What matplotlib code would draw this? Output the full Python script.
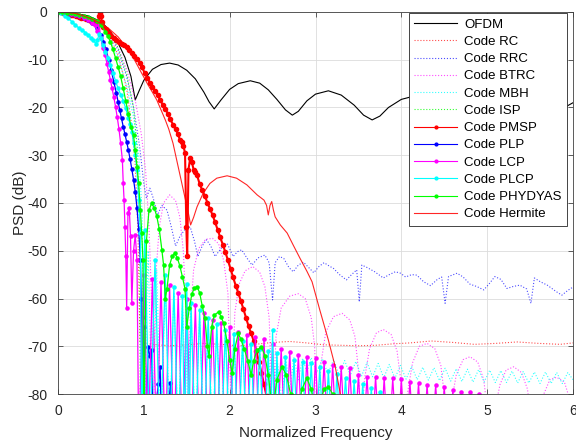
import numpy as np
import matplotlib
matplotlib.use("Agg")
import matplotlib.pyplot as plt

# PSD curves, (normalized frequency, dB)
OFDM = [(0, 0), (0.2, -0.3), (0.35, -0.8), (0.5, -2), (0.6, -3.8), (0.7, -6.5), (0.78, -9.5),
        (0.85, -13.5), (0.9, -18.4), (0.95, -16.3), (1.0, -14.3), (1.1, -12), (1.2, -11), (1.3, -10.7),
        (1.4, -11.1), (1.5, -12.2), (1.6, -14), (1.7, -16.8), (1.76, -18.8), (1.82, -20.3), (1.9, -18.4),
        (2.0, -16.2), (2.1, -15), (2.24, -14.4), (2.35, -14.9), (2.45, -16.3), (2.55, -18.3), (2.65, -20.5),
        (2.73, -21.6), (2.8, -20.8), (2.9, -18.6), (3.0, -17.2), (3.15, -16.5), (3.3, -17.4), (3.45, -19.5),
        (3.56, -21.6), (3.66, -22.6), (3.75, -21.8), (3.85, -20), (4.0, -18.3), (4.15, -17.6), (4.3, -18.2),
        (4.45, -20.5), (4.6, -23), (4.75, -21), (4.9, -19), (5.1, -18.2), (5.3, -18.8), (5.5, -21.5),
        (5.7, -23.5), (5.9, -20), (6.0, -19)]

RC = [(0, 0), (0.2, -0.3), (0.35, -1), (0.5, -2.5), (0.6, -5), (0.7, -9), (0.8, -16), (0.86, -24),
      (0.9, -32), (0.93, -45), (0.955, -69.2), (1.1, -69.6), (1.3, -69.9), (1.5, -69.7), (1.7, -69.4),
      (1.9, -69.6), (2.1, -69.9), (2.3, -69.6), (2.5, -69.2), (2.7, -69.0), (2.9, -69.3), (3.1, -69.7),
      (3.3, -69.8), (3.5, -69.9), (3.7, -69.8), (3.9, -69.5), (4.1, -69.3), (4.35, -68.9), (4.6, -69.2),
      (4.85, -69.6), (5.1, -69.4), (5.35, -69.1), (5.6, -69.4), (5.85, -69.6), (6.0, -69.3)]

RRC = [(0, 0), (0.2, -0.3), (0.35, -1), (0.5, -2.5), (0.6, -4.5), (0.7, -8), (0.8, -13.5), (0.88, -20),
       (0.95, -28), (1.0, -36), (1.03, -39), (1.07, -36.9), (1.11, -39), (1.16, -42.5), (1.21, -40.5),
       (1.27, -41.5), (1.32, -45), (1.37, -49), (1.42, -47), (1.48, -45.5), (1.54, -45), (1.59, -48),
       (1.63, -51.2), (1.68, -49), (1.73, -47.7), (1.78, -49), (1.83, -51.2), (1.9, -49.5), (1.97, -48.4),
       (2.04, -51.2), (2.09, -50.2), (2.14, -49.8), (2.2, -51.5), (2.26, -53), (2.33, -51.5), (2.41, -50.9),
       (2.46, -52.5), (2.5, -60.3), (2.53, -52.5), (2.58, -51.2), (2.63, -51.6), (2.69, -53.5), (2.74, -54.4),
       (2.8, -53), (2.86, -52.4), (2.92, -53.5), (2.98, -54.6), (3.04, -53.3), (3.1, -52.5), (3.16, -53.2),
       (3.21, -53.7), (3.28, -55), (3.36, -56.1), (3.42, -55), (3.48, -54), (3.51, -60.7), (3.54, -53),
       (3.6, -53.5), (3.69, -54.4), (3.79, -55.7), (3.86, -55), (3.93, -54.4), (3.99, -54.7), (4.05, -55.5),
       (4.12, -55), (4.18, -55.1), (4.26, -56.5), (4.34, -57.3), (4.42, -56), (4.47, -55.5), (4.51, -61),
       (4.55, -55.4), (4.65, -54.7), (4.72, -55.5), (4.8, -57), (4.88, -57.5), (4.96, -58.2), (5.02, -57),
       (5.09, -55.4), (5.16, -56), (5.23, -57.9), (5.3, -57.5), (5.38, -57.2), (5.46, -58), (5.51, -61),
       (5.55, -55.7), (5.62, -56.5), (5.7, -57.2), (5.8, -58.5), (5.87, -59.3), (5.94, -58.3), (6.0, -57.6)]

BTRC = [(0, 0), (0.2, -0.3), (0.35, -1), (0.5, -2.3), (0.6, -4.2), (0.7, -7.5), (0.8, -12), (0.9, -18.5),
        (0.97, -25.5), (1.02, -33), (1.06, -45), (1.09, -60), (1.11, -85), (1.14, -55), (1.18, -45),
        (1.23, -40), (1.3, -38.3), (1.37, -39.5), (1.42, -43), (1.46, -50), (1.49, -62), (1.51, -85),
        (1.54, -64), (1.58, -54), (1.64, -49.5), (1.72, -47.6), (1.8, -47.4), (1.87, -48.5), (1.93, -52),
        (1.98, -59), (2.02, -85), (2.06, -63), (2.11, -57), (2.18, -54.2), (2.27, -53.3), (2.35, -54.5),
        (2.41, -57.5), (2.46, -64), (2.5, -85), (2.54, -68), (2.6, -62), (2.7, -59.5), (2.8, -59), (2.88, -60),
        (2.95, -64), (2.99, -70), (3.02, -88), (3.06, -74), (3.12, -67), (3.21, -63.8), (3.31, -63.1),
        (3.4, -64.5), (3.46, -68), (3.5, -75), (3.53, -88), (3.57, -77), (3.63, -70.5), (3.71, -67.2),
        (3.79, -66.5), (3.88, -67.5), (3.95, -71), (4.0, -78), (4.03, -90), (4.07, -80), (4.13, -73.5),
        (4.21, -70), (4.3, -69.4), (4.39, -70.5), (4.46, -74), (4.5, -80), (4.53, -92), (4.58, -82),
        (4.64, -76), (4.72, -72.8), (4.8, -72.2), (4.89, -73.3), (4.96, -77), (5.0, -83), (5.03, -93),
        (5.08, -84), (5.15, -78), (5.22, -75), (5.31, -74.3), (5.4, -75.5), (5.47, -79), (5.51, -85),
        (5.54, -95), (5.6, -86), (5.66, -80), (5.73, -77), (5.81, -76.5), (5.9, -77.5), (5.96, -81), (6.0, -85)]

MBH = [(0, 0), (0.2, -0.4), (0.35, -1.2), (0.5, -3.0), (0.6, -5.5), (0.7, -9.5), (0.8, -15.5), (0.88, -22.0),
       (0.94, -30.0), (0.98, -42.0), (1.0, -88), (1.05, -50), (1.1, -88), (1.15, -54), (1.2, -88), (1.25, -57),
       (1.3, -88), (1.35, -59), (1.4, -88), (1.45, -61), (1.5, -88), (1.55, -62.5), (1.6, -88), (1.65, -64),
       (1.7, -88), (1.75, -65.5), (1.8, -88), (1.85, -66.5), (1.9, -88), (1.95, -67.5), (2.0, -88),
       (2.05, -68.5), (2.1, -88), (2.15, -69.5), (2.2, -88), (2.25, -70), (2.3, -88), (2.35, -70.5),
       (2.4, -87), (2.45, -71), (2.5, -85), (2.55, -71.5), (2.6, -82), (2.65, -72), (2.7, -79), (2.75, -72.3),
       (2.8, -77), (2.85, -72.5), (2.9, -75.5), (2.95, -72.4), (3.015, -75.6), (3.08, -72.6), (3.145, -75.8),
       (3.21, -72.8), (3.275, -76.0), (3.34, -73.0), (3.405, -76.1), (3.47, -73.2), (3.535, -76.3),
       (3.6, -73.4), (3.665, -76.4), (3.73, -73.6), (3.795, -76.6), (3.86, -73.8), (3.925, -76.7),
       (3.99, -74.0), (4.055, -76.9), (4.12, -74.2), (4.185, -77.0), (4.25, -74.4), (4.315, -77.1),
       (4.38, -74.5), (4.445, -77.2), (4.51, -74.6), (4.575, -77.3), (4.64, -74.7), (4.705, -77.4),
       (4.77, -74.8), (4.835, -77.5), (4.9, -74.9), (4.965, -77.5), (5.03, -75.0), (5.095, -77.6),
       (5.16, -75.1), (5.225, -77.6), (5.29, -75.2), (5.355, -77.7), (5.42, -75.3), (5.485, -77.7),
       (5.55, -75.4), (5.615, -77.8), (5.68, -75.4), (5.745, -77.8), (5.81, -75.5), (5.875, -77.8),
       (5.94, -75.5), (6.0, -77.0)]

ISP = [(0, 0), (0.2, -0.3), (0.35, -1), (0.5, -2.2), (0.6, -4), (0.7, -7.5), (0.8, -13), (0.88, -20),
       (0.92, -28), (0.95, -45), (0.96, -90), (6.0, -90)]

PMSP = [(0, 0), (0.03, -0.1), (0.06, -0.2), (0.09, -0.3), (0.12, -0.4), (0.15, -0.6), (0.18, -0.7),
        (0.21, -0.9), (0.24, -1.0), (0.27, -1.2), (0.3, -1.3), (0.33, -1.5), (0.36, -1.6), (0.39, -1.8),
        (0.42, -2.0), (0.45, -2.3), (0.47, -1.8), (0.48, -0.8), (0.49, -0.3), (0.5, -0.8), (0.51, -2.0),
        (0.53, -3.2), (0.56, -3.6), (0.59, -4.4), (0.62, -5.0), (0.65, -5.5), (0.68, -5.9), (0.71, -6.2),
        (0.74, -6.6), (0.77, -6.9), (0.8, -7.3), (0.83, -7.9), (0.86, -8.6), (0.89, -9.2), (0.92, -9.8),
        (0.95, -10.6), (0.98, -11.6), (1.01, -12.8), (1.04, -13.8), (1.07, -14.8), (1.1, -15.8), (1.13, -16.6),
        (1.16, -17.4), (1.19, -18.4), (1.22, -19.4), (1.25, -20.3), (1.28, -21.3), (1.31, -22.5),
        (1.34, -23.6), (1.37, -24.6), (1.4, -25.6), (1.42, -26.8), (1.44, -27.2), (1.46, -28.0),
        (1.48, -29.5), (1.495, -45), (1.505, -51), (1.52, -33), (1.54, -30.6), (1.56, -31.5), (1.58, -33),
        (1.6, -33.5), (1.62, -34.2), (1.65, -36.0), (1.68, -37.3), (1.71, -38.5), (1.74, -39.9), (1.77, -41.2),
        (1.8, -42.5), (1.83, -44.0), (1.86, -45.6), (1.89, -47.2), (1.92, -48.7), (1.95, -50.3), (1.98, -52),
        (2.01, -53.8), (2.04, -55.5), (2.07, -57.3), (2.1, -58.8), (2.13, -60.5), (2.16, -62.2), (2.19, -64.0),
        (2.22, -65.8), (2.25, -67.3), (2.28, -68.9), (2.31, -70.9), (2.34, -73.2), (2.37, -75.5), (2.4, -78),
        (2.43, -80.5), (2.46, -83)]

PLP = [(0, 0), (0.05, -0.1), (0.1, -0.2), (0.15, -0.4), (0.2, -0.6), (0.25, -0.9), (0.3, -1.2), (0.35, -1.7),
       (0.4, -2.3), (0.45, -3.3), (0.5, -4.8), (0.53, -6.2), (0.56, -7.8), (0.59, -10), (0.62, -12.2),
       (0.65, -14.6), (0.68, -17), (0.7, -18.8), (0.72, -20.6), (0.74, -22.3), (0.76, -24), (0.78, -25.6),
       (0.8, -27.2), (0.82, -28.9), (0.84, -30.8), (0.86, -32.9), (0.88, -35.1), (0.9, -37.6), (0.92, -41),
       (0.94, -45.5), (0.96, -52), (0.97, -60), (0.978, -90), (0.99, -63.8), (1.0, -66), (1.02, -90),
       (1.05, -70.1), (1.07, -72), (1.09, -70.8), (1.11, -90), (1.14, -82), (1.17, -78), (1.19, -74.3),
       (1.21, -90), (1.25, -90), (1.28, -85), (1.31, -77.8), (1.34, -90), (1.4, -95), (6.0, -95)]

LCP = [(0, 0), (0.05, -0.1), (0.1, -0.2), (0.15, -0.4), (0.2, -0.6), (0.25, -0.9), (0.3, -1.2), (0.35, -1.7),
       (0.4, -2.3), (0.43, -2.7), (0.46, -4.0), (0.48, -2.8), (0.5, -5.5), (0.52, -7.5), (0.55, -9.0),
       (0.57, -10.8), (0.59, -12.5), (0.61, -14.2), (0.63, -16.0), (0.65, -17.8), (0.67, -19.8), (0.69, -22.0),
       (0.71, -24.5), (0.73, -27.5), (0.75, -31.0), (0.76, -35.9), (0.77, -39.4), (0.78, -45.0), (0.79, -51.2),
       (0.8, -62.0), (0.815, -42.0), (0.83, -41.0), (0.845, -47.0), (0.86, -61.0), (0.88, -50.0), (0.9, -46.7),
       (0.92, -52.0), (0.94, -90), (1.0, -55.0), (1.05, -92), (1.1, -56.0), (1.15, -92), (1.2, -56.5),
       (1.25, -92), (1.3, -57.2), (1.35, -92), (1.4, -58.9), (1.45, -92), (1.5, -60.0), (1.55, -92),
       (1.6, -61.4), (1.65, -92), (1.7, -63.1), (1.75, -92), (1.8, -64.5), (1.85, -92), (1.9, -65.2),
       (1.95, -92), (2.0, -65.9), (2.05, -92), (2.1, -67.0), (2.15, -92), (2.2, -67.6), (2.25, -92),
       (2.3, -68.0), (2.35, -92), (2.4, -68.5), (2.45, -92), (2.5, -69.5), (2.55, -92), (2.6, -70.5),
       (2.65, -92), (2.7, -71.1), (2.75, -92), (2.8, -71.8), (2.85, -92), (2.9, -72.2), (2.95, -92),
       (3.0, -72.5), (3.05, -92), (3.1, -73.2), (3.15, -92), (3.2, -73.9), (3.25, -92), (3.3, -74.3),
       (3.35, -92), (3.4, -74.6), (3.45, -92), (3.5, -76.0), (3.55, -92), (3.6, -76.4), (3.65, -92),
       (3.7, -76.4), (3.75, -92), (3.8, -76.7), (3.85, -92), (3.9, -76.7), (3.95, -92), (4.0, -76.9),
       (4.05, -92), (4.1, -77.4), (4.15, -92), (4.2, -77.8), (4.25, -92), (4.3, -78.1), (4.35, -92),
       (4.4, -78.1), (4.45, -92), (4.5, -78.5), (4.55, -92), (4.6, -79.2), (4.65, -92), (4.7, -79.5),
       (4.75, -92), (4.8, -79.5), (4.85, -92), (4.9, -79.9), (4.95, -92), (5.0, -81.0), (5.05, -95), (6.0, -95)]

PLCP = [(0, 0), (0.04, -0.3), (0.08, -0.8), (0.12, -1.3), (0.16, -2.0), (0.2, -2.7), (0.24, -3.3), (0.28, -3.8),
        (0.32, -4.3), (0.35, -4.8), (0.38, -5.4), (0.41, -5.9), (0.44, -6.6), (0.46, -5.8), (0.48, -4.6),
        (0.5, -5.5), (0.52, -7.0), (0.55, -8.3), (0.58, -9.7), (0.61, -11.1), (0.64, -12.8), (0.67, -14.4),
        (0.7, -16.0), (0.73, -17.3), (0.76, -18.6), (0.79, -20.2), (0.82, -22.3), (0.84, -23.5), (0.86, -25.1),
        (0.88, -27.5), (0.9, -30.0), (0.92, -33.0), (0.94, -39.4), (0.96, -46.3), (0.975, -90), (1.01, -45.7),
        (1.07, -92), (1.13, -52.0), (1.19, -92), (1.25, -55.0), (1.3, -92), (1.35, -57.5), (1.4, -92),
        (1.45, -59.5), (1.475, -92), (1.5, -57.0), (1.525, -92), (1.55, -61.0), (1.6, -92), (1.65, -62.5),
        (1.7, -92), (1.75, -64.0), (1.8, -92), (1.85, -65.3), (1.9, -92), (1.95, -66.5), (2.0, -92),
        (2.05, -67.5), (2.1, -92), (2.15, -68.8), (2.2, -92), (2.25, -69.5), (2.3, -92), (2.35, -70.5),
        (2.4, -92), (2.45, -71.0), (2.475, -92), (2.5, -66.6), (2.525, -92), (2.55, -71.5), (2.6, -92),
        (2.65, -72.2), (2.7, -92), (2.75, -72.8), (2.8, -92), (2.85, -73.2), (2.9, -92), (2.95, -73.6),
        (3.0, -92), (3.05, -74.4), (3.1, -92), (3.15, -75.2), (3.2, -92), (3.25, -75.8), (3.3, -92),
        (3.35, -76.6), (3.4, -92), (3.45, -77.3), (3.5, -92), (3.55, -78.0), (3.6, -92), (3.65, -78.8),
        (3.7, -92), (3.75, -79.5), (3.8, -92), (3.85, -80.5), (3.9, -95), (6.0, -95)]

PHYDYAS = [(0, 0), (0.05, -0.1), (0.1, -0.2), (0.15, -0.3), (0.2, -0.4), (0.25, -0.6), (0.3, -0.8), (0.35, -1.0),
           (0.4, -1.4), (0.45, -1.8), (0.5, -2.7), (0.55, -4.1), (0.58, -5.1), (0.61, -6.2), (0.64, -7.8),
           (0.67, -9.6), (0.7, -11.5), (0.73, -13.5), (0.76, -16), (0.79, -18.7), (0.82, -21.3), (0.85, -24),
           (0.88, -25.8), (0.9, -29), (0.92, -32.4), (0.94, -35.9), (0.96, -41.5), (0.975, -46.3), (0.99, -51.9),
           (1.0, -88), (1.03, -48), (1.06, -41.5), (1.09, -40.1), (1.12, -41), (1.15, -42.7), (1.18, -45.5),
           (1.21, -49.8), (1.23, -53), (1.25, -60), (1.27, -58), (1.3, -53), (1.33, -51.2), (1.36, -50.5),
           (1.39, -51.5), (1.42, -53.2), (1.45, -55.5), (1.48, -58), (1.5, -66), (1.53, -62), (1.56, -59),
           (1.59, -57.8), (1.62, -57.5), (1.65, -58.8), (1.68, -61.5), (1.71, -64), (1.74, -70), (1.76, -72),
           (1.79, -66), (1.82, -63.5), (1.87, -62.8), (1.9, -63.8), (1.93, -65.2), (1.97, -69), (2.0, -72.9),
           (2.03, -75.7), (2.06, -70.5), (2.1, -67.3), (2.13, -68.5), (2.17, -70.5), (2.21, -73), (2.25, -76),
           (2.28, -73), (2.32, -70.8), (2.37, -70.1), (2.41, -72), (2.45, -76), (2.5, -84), (2.55, -77),
           (2.61, -74.3), (2.66, -76), (2.71, -80), (2.78, -86), (2.84, -79), (2.9, -76.7), (2.95, -79),
           (3.0, -84), (3.05, -82), (3.1, -79), (3.15, -78.5), (3.2, -80), (3.28, -88), (3.35, -84), (3.4, -81),
           (3.45, -84), (3.55, -92), (6.0, -95)]

HERMITE = [(0, 0), (0.1, -0.1), (0.2, -0.3), (0.3, -0.8), (0.4, -1.5), (0.5, -2.4), (0.6, -3.6), (0.7, -5.2),
           (0.78, -7), (0.86, -9), (0.95, -12), (1.05, -15.3), (1.1, -16.8), (1.15, -18.4), (1.21, -20.9),
           (1.25, -22.6), (1.29, -24.5), (1.34, -27.5), (1.4, -32.4), (1.46, -37.3), (1.52, -42.2),
           (1.545, -44.6), (1.58, -43), (1.62, -40.8), (1.69, -38), (1.77, -35.9), (1.85, -34.8), (1.97, -34.3),
           (2.08, -34.8), (2.2, -36.2), (2.32, -38.3), (2.4, -39.4), (2.43, -40.5), (2.45, -42.5), (2.47, -40.5),
           (2.49, -39.7), (2.51, -41.5), (2.53, -42.9), (2.59, -44.6), (2.67, -46.3), (2.74, -48.8),
           (2.82, -51.6), (2.9, -54.3), (2.96, -56.5), (3.05, -62.4), (3.15, -68.7), (3.23, -74.3), (3.29, -80),
           (3.34, -85)]

plt.rcParams["font.family"] = ["Liberation Sans", "DejaVu Sans"]
plt.rcParams["axes.unicode_minus"] = False

RED, BLUE, MAG, CYAN, GREEN = "#ff0000", "#0000ff", "#ff00ff", "#00ffff", "#00ff00"

fig = plt.figure(figsize=(5.76, 4.45), dpi=100)
ax = fig.add_axes([58 / 576, 1 - 394 / 445, 515 / 576, 382 / 445])


def xy(pairs):
    arr = np.array(pairs, dtype=float)
    return arr[:, 0], arr[:, 1]


ax.plot(*xy(OFDM), color="k", lw=0.8, label="OFDM")
ax.plot(*xy(RC), color=RED, ls=":", lw=0.8, alpha=0.7, label="Code RC")
ax.plot(*xy(RRC), color=BLUE, ls=":", lw=0.8, alpha=0.7, label="Code RRC")
ax.plot(*xy(BTRC), color=MAG, ls=":", lw=0.8, alpha=0.7, label="Code BTRC")
ax.plot(*xy(MBH), color=CYAN, ls=":", lw=0.8, alpha=0.8, label="Code MBH")
ax.plot(*xy(ISP), color=GREEN, ls=":", lw=0.8, alpha=0.8, label="Code ISP")
ax.plot(*xy(PMSP), color=RED, marker=".", ms=6, lw=1.5, label="Code PMSP")
ax.plot(*xy(PLP), color=BLUE, marker=".", ms=4.5, lw=0.9, label="Code PLP")
ax.plot(*xy(LCP), color=MAG, marker=".", ms=4.5, lw=0.9, label="Code LCP")
ax.plot(*xy(PLCP), color=CYAN, marker=".", ms=4.5, lw=0.9, label="Code PLCP")
ax.plot(*xy(PHYDYAS), color=GREEN, marker=".", ms=4.5, lw=0.9, label="Code PHYDYAS")
ax.plot(*xy(HERMITE), color=RED, lw=0.8, alpha=0.85, label="Code Hermite")

ax.set_xlim(0, 6)
ax.set_ylim(-80, 0)
ax.set_xticks(range(0, 7))
ax.set_yticks(range(-80, 1, 10))
ax.grid(True, color="#dcdcdc", lw=0.6)
ax.set_axisbelow(True)
ax.tick_params(direction="in", top=True, right=True, length=3.5, width=0.5,
               colors="#262626", labelsize=10)
ax.tick_params(axis="x", pad=7)
ax.tick_params(axis="y", pad=7.5)
for s in ax.spines.values():
    s.set_color("#404040")
    s.set_linewidth(0.6)

ax.set_xlabel("Normalized Frequency", fontsize=11, color="#262626", labelpad=6)
ax.set_ylabel("PSD (dB)", fontsize=11, color="#262626", labelpad=0)

leg = ax.legend(loc="upper right", bbox_to_anchor=(0.988, 0.997), fontsize=9.5,
                fancybox=False, edgecolor="#262626", framealpha=1, handlelength=3.3,
                labelspacing=0.38, borderpad=0.4, handletextpad=0.5, borderaxespad=0)
leg.get_frame().set_linewidth(0.6)
for ln in leg.get_lines():
    ln.set_linewidth(0.8)
    ln.set_markersize(4)

fig.savefig("out.png", dpi=100)
